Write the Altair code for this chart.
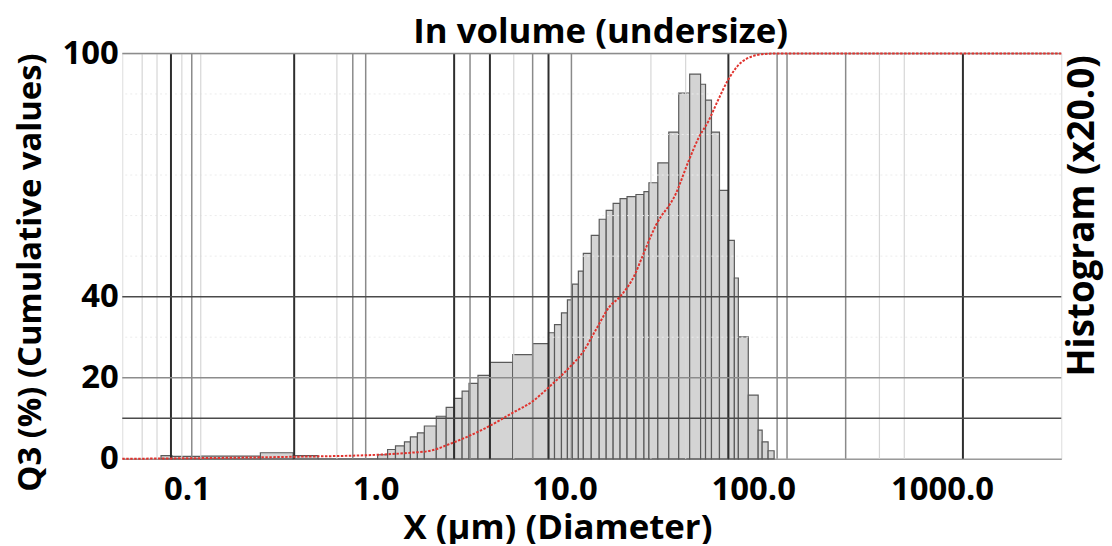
import altair as alt
import pandas as pd

# ---------------- data ----------------
# histogram bin edges (µm) and histogram values (%; drawn x20 on the Q3 scale)
bin_edges = [0.0730, 0.0834, 0.1185, 0.2452, 0.3658, 0.4952, 1.0245, 1.157, 1.274,
             1.421, 1.528, 1.664, 1.811, 2.095, 2.364, 2.605, 2.871, 3.124, 3.484,
             4.030, 5.325, 6.786, 8.235, 8.860, 9.643, 10.37, 11.02, 11.85, 12.59,
             13.87, 15.28, 16.64, 18.11, 19.71, 21.46, 23.92, 26.37, 28.02, 31.24,
             35.70, 40.30, 46.05, 52.62, 55.89, 60.09, 66.24, 73.86, 79.43, 83.40,
             94.13, 106.2, 111.5, 119.9, 129.0]
hist_pct = [0.04, 0.03, 0.033, 0.075, 0.04, 0.0,
            0.05, 0.115, 0.16, 0.21, 0.27, 0.32, 0.405, 0.525, 0.635, 0.745,
            0.835, 0.93, 1.03, 1.19, 1.285, 1.42, 1.555, 1.655, 1.8, 1.96,
            2.155, 2.315, 2.535, 2.755, 2.955, 3.065, 3.15, 3.21, 3.235, 3.26,
            3.295, 3.405, 3.65, 4.03, 4.51, 4.745, 4.62, 4.425, 4.03, 3.31,
            2.695, 2.23, 1.505, 0.785, 0.355, 0.21, 0.10]

# cumulative undersize curve Q3 (%)
cum_x = [0.0455, 0.357, 1.02, 1.53, 1.95, 2.48, 3.75, 5.39, 6.79, 8.24, 10.6, 12.6,
         14.7, 17.3, 19.7, 23.9, 25.4, 30.5, 38.9, 45.5, 51.4, 57.9, 64.7, 73.9,
         87.5, 111.5, 135.4, 4281]
cum_q = [0.0, 0.5, 1.0, 1.5, 2.0, 3.7, 7.4, 11.5, 14.2, 17.6, 22.5, 26.5,
         31.9, 37.5, 40.0, 46.0, 49.0, 57.6, 65.4, 73.5, 79.2, 83.3, 88.2, 93.6,
         98.0, 99.8, 100.0, 100.0]

# vertical grid lines (µm) by shade
vgrid_dark = [0.0824, 0.3703, 2.605, 4.030, 8.235, 73.86, 1290]
vgrid_mid = [0.1062, 0.7568, 0.8858, 3.162, 6.786, 10.89, 133.8, 151.0, 308.7]
vgrid_light = [0.0580, 0.0695, 0.0941, 0.1185, 0.6235, 5.390, 28.71, 43.86, 466.0, 631.0]

# horizontal grid lines (Q3 %)
hgrid_dark = [10, 40]
hgrid_mid = [20, 100]
hgrid_faint = [30, 50, 60, 70, 80, 90]

x_domain = [0.0455, 4281]
x_ticks = [0.1, 1, 10, 100, 1000]
y_ticks = [0, 20, 40, 100]

# ---------------- chart ----------------
FONT = "Open Sans"
FS = 33

hist_df = pd.DataFrame({"lo": bin_edges[:-1], "hi": bin_edges[1:], "h": hist_pct})
cum_df = pd.DataFrame({"x": cum_x, "q": cum_q})

xs = alt.Scale(type="log", domain=x_domain, nice=False)
qs = alt.Scale(domain=[0, 100], nice=False, zero=True)

x_axis = alt.Axis(values=x_ticks, format=".1f", ticks=False, grid=False,
                  domain=True, domainColor="#999999", domainWidth=1.5,
                  labelFont=FONT, labelFontWeight="bold", labelFontSize=FS,
                  labelColor="black", labelPadding=15, labelFlush=False,
                  title="X (µm) (Diameter)", titleFont=FONT, titleFontWeight="bold",
                  titleFontSize=35, titleColor="black", titleX=438, titleY=69,
                  titleAlign="center", titleBaseline="middle")

q_axis = alt.Axis(orient="left", values=y_ticks, ticks=False, grid=False,
                  domain=False, labelFont=FONT, labelFontWeight="bold",
                  labelFontSize=FS, labelColor="black", labelPadding=4,
                  title="Q3 (%) (Cumulative values)", titleFont=FONT,
                  titleFontWeight="bold", titleFontSize=FS, titleColor="black",
                  titleAngle=270, titleX=-92, titleY=220, titleAlign="center",
                  titleBaseline="middle")

bars = alt.Chart(hist_df).mark_rect(fill="#d4d4d4", stroke="#5a5a5a", strokeWidth=1.2).encode(
    x=alt.X("lo:Q", scale=xs, axis=x_axis),
    x2="hi:Q",
    y=alt.Y("h:Q", scale=alt.Scale(domain=[0, 5], nice=False),
            axis=alt.Axis(orient="right", labels=False, ticks=False, domain=False,
                          grid=False, title="Histogram (x20.0)", titleFont=FONT,
                          titleFontWeight="bold", titleFontSize=37, titleColor="black",
                          titleAngle=270, titleX=21, titleY=163, titleAlign="center",
                          titleBaseline="middle")),
    y2=alt.datum(0),
)


def vrules(vals, color, width):
    return alt.Chart(pd.DataFrame({"v": vals})).mark_rule(color=color, strokeWidth=width).encode(
        x=alt.X("v:Q", scale=xs, axis=x_axis))


def hrules(vals, color, width, dash=None):
    kw = dict(color=color, strokeWidth=width)
    if dash:
        kw["strokeDash"] = dash
    return alt.Chart(pd.DataFrame({"q": vals})).mark_rule(**kw).encode(
        y=alt.Y("q:Q", scale=qs, axis=q_axis))


cum_line = alt.Chart(cum_df).mark_line(color="#e0332e", strokeWidth=2,
                                       strokeDash=[2.5, 1.5], interpolate="monotone").encode(
    x=alt.X("x:Q", scale=xs, axis=x_axis),
    y=alt.Y("q:Q", scale=qs, axis=q_axis),
)

q_layer = alt.layer(
    hrules(hgrid_faint, "#ececec", 1, [2, 3]),
    vrules(vgrid_light, "#d6d6d6", 1.2),
    vrules(vgrid_mid, "#8a8a8a", 1.5),
    vrules(vgrid_dark, "#2e2e2e", 2),
    hrules(hgrid_mid, "#8c8c8c", 1.5),
    hrules(hgrid_dark, "#4a4a4a", 1.5),
    cum_line,
)

chart = alt.layer(bars, q_layer).resolve_scale(y="independent").properties(
    width=945, height=408,
    padding={"left": 115, "top": 44, "right": 43, "bottom": 84},
    autosize=alt.AutoSizeParams(type="none"),
    title=alt.TitleParams("In volume (undersize)", font=FONT, fontWeight="bold",
                          fontSize=35, color="black", anchor="middle", offset=1,
                          dx=9, dy=14),
).configure_view(stroke=None).configure(background="white")

chart.save("out.html", embed_options={"renderer": "svg", "actions": False})
